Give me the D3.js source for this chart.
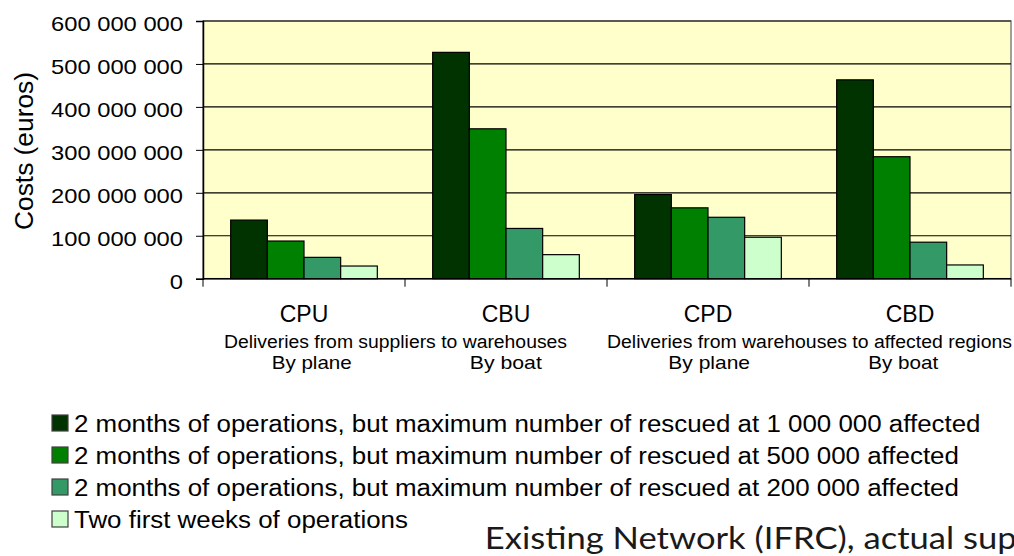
<!DOCTYPE html>
<html>
<head>
<meta charset="utf-8">
<script src="https://cdn.jsdelivr.net/npm/d3@7"></script>
<style>
  html, body { margin: 0; padding: 0; background: #fff; overflow: hidden; }
  svg { display: block; }
</style>
</head>
<body>
<script>
// categories and series (euros)
const categories = ['CPU', 'CBU', 'CPD', 'CBD'];
const seriesNames = [
  '2 months of operations, but maximum number of rescued at 1 000 000 affected',
  '2 months of operations, but maximum number of rescued at 500 000 affected',
  '2 months of operations, but maximum number of rescued at 200 000 affected',
  'Two first weeks of operations'
];
const seriesColors = ['#003300', '#008000', '#339966', '#ccffcc'];
const rescued1000k = [136500000, 527000000, 196000000, 463000000];
const rescued500k = [87700000, 349000000, 165000000, 284000000];
const rescued200k = [49700000, 117000000, 143000000, 85000000];
const firstWeeks = [29500000, 56000000, 96500000, 32000000];
const yTicks = [0, 100000000, 200000000, 300000000, 400000000, 500000000, 600000000];
// text under the axis
const deliveryGroups = [
  { text: 'Deliveries from suppliers to warehouses', x0: 224, x1: 567 },
  { text: 'Deliveries from warehouses to affected regions', x0: 607, x1: 1012 }
];
const modeLabels = ['By plane', 'By boat', 'By plane', 'By boat'];
const footer = 'Existing Network (IFRC), actual sup';

const W = 1014, H = 556;
const plot = { left: 203, right: 1011, top: 21, bottom: 278.7 };

const svg = d3.select('body').append('svg')
  .attr('width', W)
  .attr('height', H);

const seriesValues = [rescued1000k, rescued500k, rescued200k, firstWeeks];
const rows = categories.map((c, i) => ({
  cat: c,
  vals: seriesValues.map((s, j) => ({ key: j, value: s[i] }))
}));

const x0 = d3.scaleBand()
  .domain(categories)
  .range([plot.left, plot.right])
  .paddingInner(0)
  .paddingOuter(0);
const x1 = d3.scaleBand()
  .domain(d3.range(seriesNames.length))
  .range([0, x0.bandwidth()])
  .paddingInner(0)
  .paddingOuter(0.755);
const y = d3.scaleLinear()
  .domain([0, 600000000])
  .range([plot.bottom, plot.top]);

// stretch a text horizontally (the source picture is a bit wider than tall)
function stretch(sel, k) {
  sel.each(function () {
    const n = this.getComputedTextLength();
    d3.select(this).attr('textLength', n * k).attr('lengthAdjust', 'spacingAndGlyphs');
  });
}

// plot background
svg.append('rect')
  .attr('x', plot.left)
  .attr('y', plot.top)
  .attr('width', plot.right - plot.left)
  .attr('height', plot.bottom - plot.top)
  .style('fill', '#ffffcc')
  .style('stroke', '#808080')
  .style('stroke-width', '1.5px');
svg.append('line')
  .attr('x1', plot.left).attr('x2', plot.right)
  .attr('y1', plot.top).attr('y2', plot.top)
  .style('stroke', '#404040')
  .style('stroke-width', '1.5px');

// gridlines
svg.append('g')
  .attr('class', 'grid')
  .selectAll('line')
  .data(yTicks.filter(t => t > 0 && t < 600000000))
  .enter().append('line')
  .attr('x1', plot.left)
  .attr('x2', plot.right)
  .attr('y1', d => y(d))
  .attr('y2', d => y(d))
  .style('stroke', '#000')
  .style('stroke-width', '1.2px');

// bars
svg.append('g')
  .attr('class', 'bars')
  .selectAll('g')
  .data(rows)
  .enter().append('g')
  .attr('transform', d => 'translate(' + x0(d.cat) + ',0)')
  .selectAll('rect')
  .data(d => d.vals)
  .enter().append('rect')
  .attr('x', d => x1(d.key))
  .attr('y', d => y(d.value))
  .attr('width', x1.bandwidth())
  .attr('height', d => y(0) - y(d.value))
  .style('fill', d => seriesColors[d.key])
  .style('stroke', '#000')
  .style('stroke-width', '1.2px');

// y axis
const fmt = d => d3.format(',')(d).replace(/,/g, ' ');
const yAxis = svg.append('g')
  .attr('class', 'y-axis')
  .attr('transform', 'translate(' + plot.left + ',0)')
  .call(d3.axisLeft(y).tickValues(yTicks).tickSize(7).tickPadding(13).tickFormat(fmt));
yAxis.select('.domain').style('stroke', '#000').style('stroke-width', '1.5px');
yAxis.selectAll('.tick line').style('stroke', '#000');
yAxis.selectAll('.tick text')
  .attr('dy', '0.45em')
  .style('font-family', '"Liberation Sans", Arial, sans-serif')
  .style('font-size', '21px')
  .style('fill', '#000')
  .call(stretch, 1.13);

// x axis line and boundary ticks
svg.append('line')
  .attr('x1', plot.left).attr('x2', plot.right)
  .attr('y1', plot.bottom).attr('y2', plot.bottom)
  .style('stroke', '#000')
  .style('stroke-width', '1.5px');
svg.append('g')
  .attr('class', 'x-ticks')
  .selectAll('line')
  .data(categories.map(c => x0(c)).concat([x0.range()[1]]))
  .enter().append('line')
  .attr('x1', d => d).attr('x2', d => d)
  .attr('y1', plot.bottom).attr('y2', plot.bottom + 8)
  .style('stroke', '#000')
  .style('stroke-width', '1px');

// category labels
svg.append('g')
  .attr('class', 'x-labels')
  .selectAll('text')
  .data(categories)
  .enter().append('text')
  .attr('x', d => x0(d) + x0.bandwidth() / 2)
  .attr('y', 321.5)
  .attr('text-anchor', 'middle')
  .style('font-family', '"Liberation Sans", Arial, sans-serif')
  .style('font-size', '23px')
  .style('fill', '#000')
  .text(d => d);

// y title
svg.append('text')
  .attr('transform', 'translate(33,151) rotate(-90)')
  .attr('text-anchor', 'middle')
  .attr('textLength', 158)
  .attr('lengthAdjust', 'spacingAndGlyphs')
  .style('font-family', '"Liberation Sans", Arial, sans-serif')
  .style('font-size', '25px')
  .style('fill', '#000')
  .text('Costs (euros)');

// delivery annotations (narrow face, like the original)
const annoFont = '"Liberation Sans Narrow", "Liberation Sans", sans-serif';
svg.append('g')
  .attr('class', 'groups')
  .selectAll('text')
  .data(deliveryGroups)
  .enter().append('text')
  .attr('x', d => d.x0)
  .attr('y', 348)
  .attr('textLength', d => d.x1 - d.x0)
  .attr('lengthAdjust', 'spacingAndGlyphs')
  .style('font-family', annoFont)
  .style('font-size', '18px')
  .style('fill', '#000')
  .text(d => d.text);

const modeCenters = [311.7, 505.8, 709.2, 903.3];
const modeWidths = [80, 72, 81.7, 70];
svg.append('g')
  .attr('class', 'modes')
  .selectAll('text')
  .data(modeLabels)
  .enter().append('text')
  .attr('x', (d, i) => modeCenters[i])
  .attr('y', 369)
  .attr('text-anchor', 'middle')
  .attr('textLength', (d, i) => modeWidths[i])
  .attr('lengthAdjust', 'spacingAndGlyphs')
  .style('font-family', annoFont)
  .style('font-size', '18.5px')
  .style('fill', '#000')
  .text(d => d);

// legend
const legend = svg.append('g')
  .attr('class', 'legend')
  .selectAll('g')
  .data(seriesNames)
  .enter().append('g')
  .attr('transform', (d, i) => 'translate(52,' + (415 + i * 32) + ')');
legend.append('rect')
  .attr('width', 16)
  .attr('height', 16)
  .style('fill', (d, i) => seriesColors[i])
  .style('stroke', '#404040')
  .style('stroke-width', '1.2px');
legend.append('text')
  .attr('x', 22)
  .attr('y', 16.7)
  .style('font-family', '"Liberation Sans", Arial, sans-serif')
  .style('font-size', '23px')
  .style('fill', '#000')
  .text(d => d)
  .call(stretch, 1.126);

// footer caption (cut at the right edge)
svg.append('text')
  .attr('x', 484.7)
  .attr('y', 549)
  .attr('textLength', 532)
  .attr('lengthAdjust', 'spacingAndGlyphs')
  .style('font-family', 'Lato, "Open Sans", sans-serif')
  .style('font-size', '31px')
  .style('fill', '#1a1a1a')
  .text(footer);
</script>
</body>
</html>
